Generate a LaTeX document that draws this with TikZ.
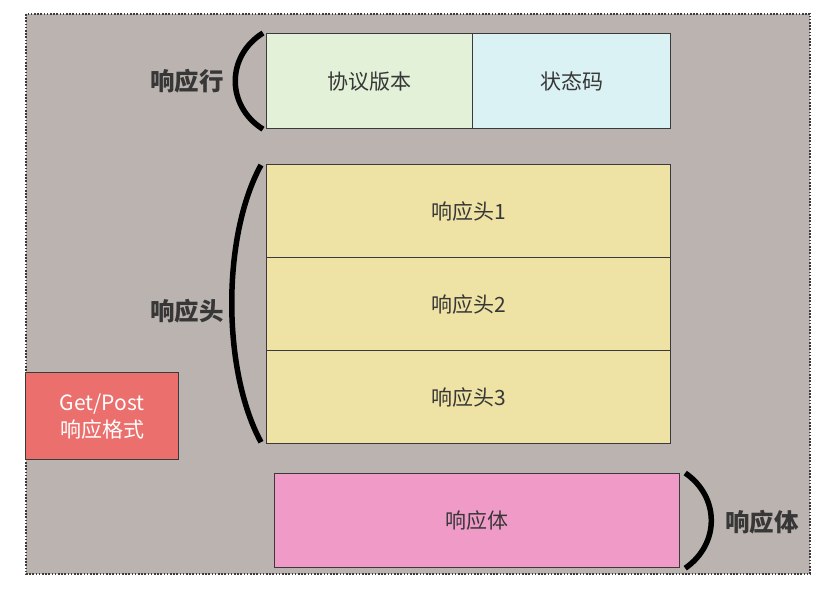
\documentclass[tikz,border=0pt]{standalone}
\usepackage{fontspec}
\setmainfont{Noto Sans CJK SC}
\usetikzlibrary{positioning}
\definecolor{bgGray}{RGB}{186,179,175}
\definecolor{lineGray}{RGB}{58,58,60}
\definecolor{txtDark}{RGB}{55,55,55}
\definecolor{verGreen}{RGB}{227,241,216}
\definecolor{codeCyan}{RGB}{219,242,245}
\definecolor{hdrYellow}{RGB}{238,227,164}
\definecolor{bodyPink}{RGB}{240,155,199}
\definecolor{fmtRed}{RGB}{234,111,109}
\begin{document}
\begin{tikzpicture}[x=1pt, y=-1pt,
  box/.style={draw=lineGray, line width=1.2pt, anchor=north west, inner sep=0pt,
    text=txtDark, font=\fontsize{21}{24}\selectfont},
  lbl/.style={text=txtDark, font=\fontsize{24.5}{28}\selectfont\bfseries},
  paren/.style={line width=5.5pt}]
  \useasboundingbox (0,0) rectangle (834,590);
  \draw[fill=bgGray, draw=lineGray, line width=1.6pt, dash pattern=on 1.6pt off 1.6pt] (26,14) rectangle (810,574);
  % response line
  \node[box, fill=verGreen, minimum width=206pt, minimum height=95pt] (ver) at (266,33) {协议版本};
  \node[box, fill=codeCyan, minimum width=198pt, minimum height=95pt] (code) at (472,33) {状态码};
  % response headers
  \node[box, fill=hdrYellow, minimum width=404pt, minimum height=93pt] (hdr1) at (266,164) {响应头1};
  \node[box, fill=hdrYellow, minimum width=404pt, minimum height=93pt] (hdr2) at (266,257) {响应头2};
  \node[box, fill=hdrYellow, minimum width=404pt, minimum height=93pt] (hdr3) at (266,350) {响应头3};
  % response body
  \node[box, fill=bodyPink, minimum width=405pt, minimum height=94pt] (body) at (274,473) {响应体};
  \node[box, fill=fmtRed, text=white, minimum width=153pt, minimum height=87pt, align=center,
    font=\fontsize{21}{27}\selectfont] (fmt) at (25,372) {Get/Post\\响应格式};
  % brackets
  \draw[paren] ([xshift=-3pt]ver.north west) .. controls (226,56) and (226,106) .. ([xshift=-3pt]ver.south west);
  \draw[paren] ([xshift=-5pt,yshift=-1pt]hdr1.north west) .. controls (222,236) and (222,370) .. ([xshift=-5pt,yshift=2pt]hdr3.south west);
  \draw[paren] ([xshift=5pt]body.north east) .. controls (720,497) and (720,544) .. ([xshift=5pt]body.south east);
  % labels
  \node[lbl] (lblLine) at (187,81) {响应行};
  \node[lbl] (lblHdr) at (187,311) {响应头};
  \node[lbl] (lblBody) at (762,522) {响应体};
\end{tikzpicture}
\end{document}
